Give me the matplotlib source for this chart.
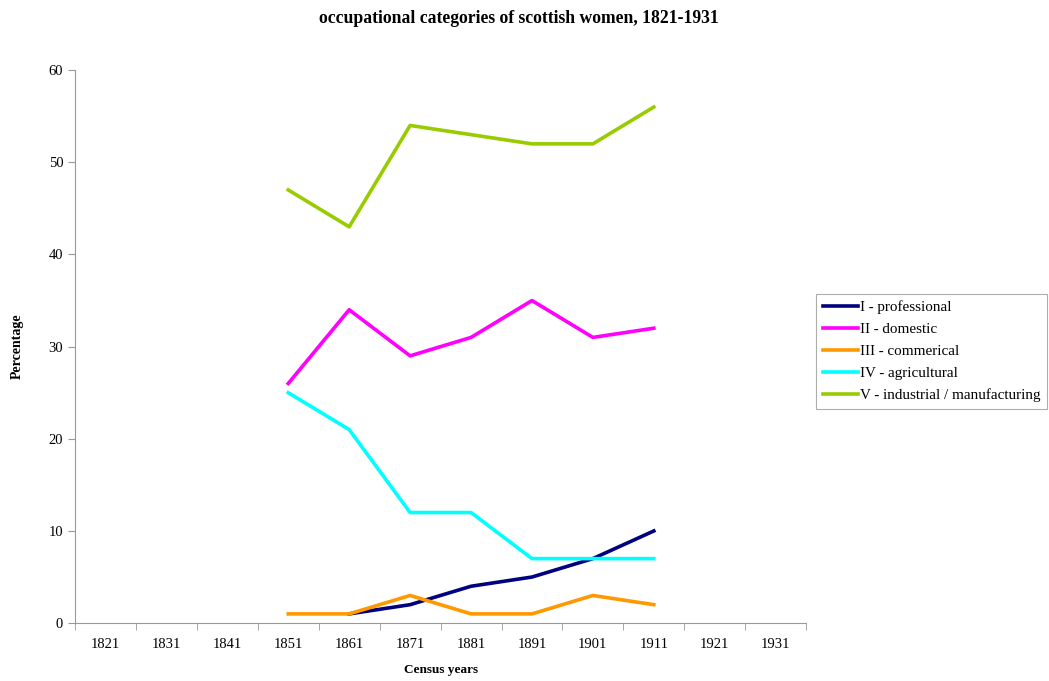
import numpy as np
import matplotlib
matplotlib.use("Agg")
import matplotlib.pyplot as plt

# donnees
annees = ["1821", "1831", "1841", "1851", "1861", "1871", "1881", "1891", "1901", "1911", "1921", "1931"]
nan = np.nan
professional = [nan, nan, nan, nan, 1, 2, 4, 5, 7, 10, nan, nan]
domestic = [nan, nan, nan, 26, 34, 29, 31, 35, 31, 32, nan, nan]
commercial = [nan, nan, nan, 1, 1, 3, 1, 1, 3, 2, nan, nan]
agricultural = [nan, nan, nan, 25, 21, 12, 12, 7, 7, 7, nan, nan]
industrial = [nan, nan, nan, 47, 43, 54, 53, 52, 52, 56, nan, nan]

plt.rcParams['font.family'] = ['Liberation Serif', 'DejaVu Serif']

fig = plt.figure(figsize=(10.49, 6.81), dpi=100)
ax = fig.add_axes([0.0715, 0.085, 0.697, 0.812])

x = np.arange(len(annees))
ax.plot(x, professional, color="#000080", lw=2.6, label="I - professional")
ax.plot(x, domestic, color="#FF00FF", lw=2.6, label="II - domestic")
ax.plot(x, commercial, color="#FF9900", lw=2.6, label="III - commerical")
ax.plot(x, agricultural, color="#00FFFF", lw=2.6, label="IV - agricultural")
ax.plot(x, industrial, color="#99CC00", lw=2.6, label="V - industrial / manufacturing")

ax.set_xlim(-0.5, len(annees) - 0.5)
ax.set_ylim(0, 60)
ax.set_yticks(range(0, 61, 10))
ax.set_xticks(x)
ax.set_xticklabels(annees)
ax.set_xticks(np.arange(-0.5, len(annees), 1), minor=True)
ax.tick_params(axis='x', which='major', length=0, pad=11, labelsize=10.5)
ax.tick_params(axis='x', which='minor', length=5, color="#999999")
ax.tick_params(axis='y', length=5, color="#999999", labelsize=10.5)

for s in ["top", "right"]:
    ax.spines[s].set_visible(False)
for s in ["left", "bottom"]:
    ax.spines[s].set_color("#999999")

ax.set_xlabel("Census years", fontsize=9.5, fontweight="bold", labelpad=9)
ax.set_ylabel("Percentage", fontsize=10, fontweight="bold", labelpad=18)
fig.suptitle("occupational categories of scottish women, 1821-1931", fontsize=12.7, fontweight="bold", y=0.985, x=0.495)

leg = ax.legend(loc="upper left", bbox_to_anchor=(1.014, 0.596), fontsize=10.9, frameon=True,
                fancybox=False, edgecolor="#999999", handlelength=2.3, handletextpad=0.1,
                borderpad=0.45, labelspacing=0.55, borderaxespad=0)
leg.get_frame().set_linewidth(0.8)

fig.savefig("out.png", dpi=100)
